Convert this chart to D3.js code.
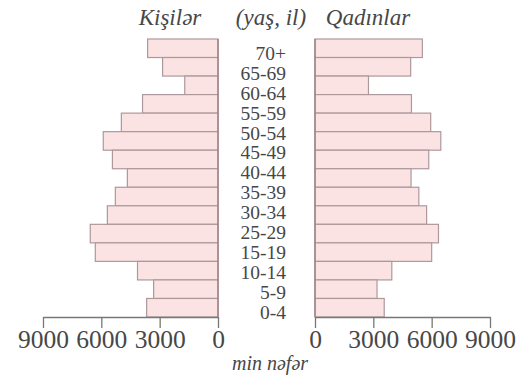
<!DOCTYPE html>
<html><head><meta charset="utf-8">
<script src="https://cdn.jsdelivr.net/npm/d3@7"></script>
<style>
html,body{margin:0;padding:0;background:#fff;}
svg{display:block;}
text{font-family:"Liberation Serif","DejaVu Serif",serif;fill:#474747;}
</style></head>
<body>
<script>
// Bars (one per age group, top to bottom)
const ageGroups = ["70+","65-69","60-64","55-59","50-54","45-49","40-44","35-39","30-34","25-29","20-24","15-19","10-14","5-9","0-4"];
const males   = [3620,2850,1710,3880,4970,5900,5430,4660,5280,5690,6570,6310,4140,3310,3670];
const females = [5520,4920,2750,4960,5950,6470,5850,4940,5340,5740,6350,6000,3950,3190,3560];
// Age labels as printed in the centre column
const ageLabels = ["70+","65-69","60-64","55-59","50-54","45-49","40-44","35-39","30-34","25-29","15-19","10-14","5-9","0-4"];
const tickValues = [0,3000,6000,9000];
const titleLeft = "Kişilər", titleMid = "(yaş, il)", titleRight = "Qadınlar", unitLabel = "min nəfər";

const W = 525, H = 377;
const svg = d3.select("body").append("svg").attr("width", W).attr("height", H);

const y = d3.scaleBand().domain(ageGroups).range([39, 317]).padding(0);
const yLab = d3.scalePoint().domain(ageLabels).range([53, 312]);
const xL = d3.scaleLinear().domain([0, 9000]).range([218, 43]);
const xR = d3.scaleLinear().domain([0, 9000]).range([315, 490]);

const fill = "#fce3e3", stroke = "#ad989c";

svg.append("g").selectAll("rect").data(ageGroups).join("rect")
  .attr("x", (d,i) => xL(males[i]))
  .attr("y", d => y(d))
  .attr("width", (d,i) => xL(0) - xL(males[i]))
  .attr("height", y.bandwidth())
  .attr("fill", fill).attr("stroke", stroke).attr("stroke-width", 1.2);

svg.append("g").selectAll("rect").data(ageGroups).join("rect")
  .attr("x", xR(0))
  .attr("y", d => y(d))
  .attr("width", (d,i) => xR(females[i]) - xR(0))
  .attr("height", y.bandwidth())
  .attr("fill", fill).attr("stroke", stroke).attr("stroke-width", 1.2);

// centre vertical lines
svg.append("line").attr("x1", xL(0)).attr("x2", xL(0)).attr("y1", 39).attr("y2", 317)
  .attr("stroke", "#9c868a").attr("stroke-width", 1.5);
svg.append("line").attr("x1", xR(0)).attr("x2", xR(0)).attr("y1", 39).attr("y2", 317)
  .attr("stroke", "#9c868a").attr("stroke-width", 1.5);

// age labels
svg.append("g").selectAll("text").data(ageLabels).join("text")
  .attr("x", 286).attr("y", d => yLab(d))
  .attr("dy", "0.35em").attr("text-anchor", "end")
  .attr("font-size", 19.5).text(d => d);

// axes
function styleAxis(g){
  g.select(".domain").attr("stroke", "#777").attr("stroke-width", 1.3);
  g.selectAll(".tick line").attr("stroke", "#777").attr("stroke-width", 1.3);
  g.selectAll(".tick text").attr("font-size", 25.5);
}
svg.append("g").attr("transform", "translate(0,317)")
  .call(d3.axisBottom(xL).tickValues(tickValues).tickSize(11).tickSizeOuter(0).tickPadding(2).tickFormat(d3.format("d")))
  .call(styleAxis);
svg.append("g").attr("transform", "translate(0,317)")
  .call(d3.axisBottom(xR).tickValues(tickValues).tickSize(11).tickSizeOuter(0).tickPadding(2).tickFormat(d3.format("d")))
  .call(styleAxis);

// titles
svg.append("text").attr("x", 170).attr("y", 25).attr("text-anchor", "middle")
  .attr("font-style", "italic").attr("font-size", 23).text(titleLeft);
svg.append("text").attr("x", 271).attr("y", 25).attr("text-anchor", "middle")
  .attr("font-style", "italic").attr("font-size", 23).text(titleMid);
svg.append("text").attr("x", 368).attr("y", 25).attr("text-anchor", "middle")
  .attr("font-style", "italic").attr("font-size", 23).text(titleRight);
svg.append("text").attr("x", 270).attr("y", 370).attr("text-anchor", "middle")
  .attr("font-style", "italic").attr("font-size", 20).text(unitLabel);
</script>
</body></html>
